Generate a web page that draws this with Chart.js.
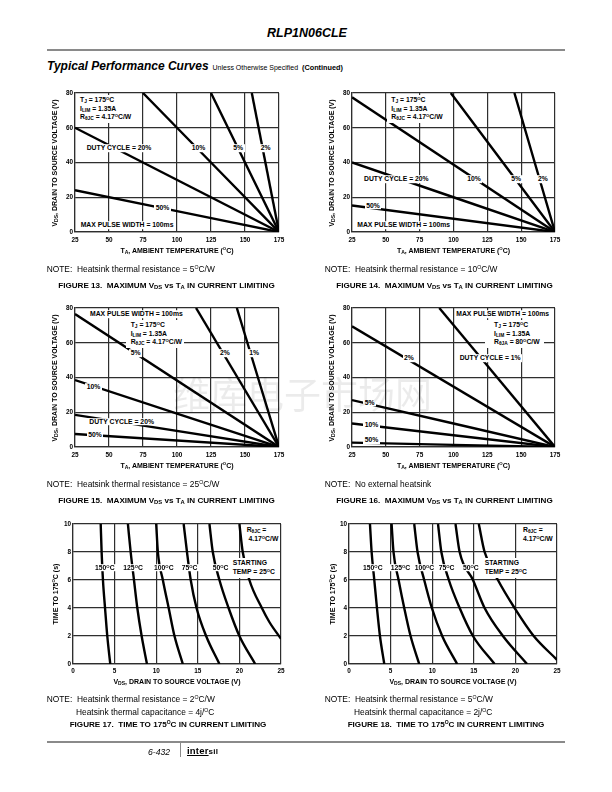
<!DOCTYPE html>
<html>
<head>
<meta charset="utf-8">
<script src="https://cdn.jsdelivr.net/npm/chart.js@4.4.1/dist/chart.umd.min.js"></script>
<style>
  html, body { margin: 0; padding: 0; background: #fff; }
  body { position: relative; width: 612px; height: 792px; overflow: hidden;
         font-family: "Liberation Sans", Arial, Helvetica, sans-serif; color: #000; }
  canvas { position: absolute; }
  .t { position: absolute; white-space: nowrap; }
  sub { font-size: 72%; vertical-align: -0.3em; line-height: 0; }
  sup { font-size: 62%; vertical-align: 0.55em; line-height: 0; }
  .lb { font-weight: bold; font-size: 6.8px; line-height: 7.6px; background: #fff; padding: 0 1.5px; }
  .blk { font-weight: bold; font-size: 6.8px; line-height: 8.4px; background: #fff; }
  .axt { font-weight: bold; font-size: 7px; }
  .note { font-size: 8.4px; }
  .cap { font-weight: bold; font-size: 8.1px; }
  .rule { position: absolute; background: #8a8a8a; }
  .wm { font-family: "Noto Sans CJK SC", sans-serif; font-size: 37px; color: rgba(0, 0, 0, 0.08); pointer-events: none; }
</style>
</head>
<body>
<script>
// ---- data ----
const tjMax = 175;                       // every V_DS vs T_A line ends at (175, 0)
const tempTicks = [25, 50, 75, 100, 125, 150, 175];
const vdsTicks = [0, 20, 40, 60, 80];
const timeTicks = [0, 2, 4, 6, 8, 10];
const vTicks = [0, 5, 10, 15, 20, 25];

// Figure 13, heatsink 5 C/W
const f13Duty = ['50%', '20%', '10%', '5%', '2%'];
const f13StartT = [25, 25, 75, 125, 155];
const f13StartV = [24, 60, 80, 80, 80];

// Figure 14, heatsink 10 C/W
const f14Duty = ['50%', '20%', '10%', '5%', '2%'];
const f14StartT = [25, 25, 25, 98, 145];
const f14StartV = [15.3, 40, 77.5, 80, 80];

// Figure 15, heatsink 25 C/W
const f15Duty = ['50%', '20%', '10%', '5%', '2%', '1%'];
const f15StartT = [25, 25, 25, 25, 114, 144];
const f15StartV = [7.5, 18.5, 38.5, 76.5, 80, 80];

// Figure 16, no heatsink
const f16Duty = ['50%', '10%', '5%', '2%', '1%'];
const f16StartT = [25, 25, 25, 25, 89.5];
const f16StartV = [2.5, 13.5, 27, 69.5, 80];

// Figure 17, time to 175C (s) vs V_DS, per starting temperature
const f17Temps = ['150', '125', '100', '75', '50', '25'];
const f17Time = [
  [10, 8, 6, 4, 2, 0],
  [10, 8, 6, 4, 2, 0],
  [10, 8, 6, 4, 2, 0],
  [10, 8, 6, 4, 2, 0],
  [10, 8, 6, 4, 2, 0],
  [10, 8, 6, 4, 3, 1.8]
];
const f17Vds = [
  [3.33, 3.44, 3.6, 3.85, 4.12, 4.48],
  [6.6, 6.93, 7.33, 7.73, 8.25, 8.89],
  [10.0, 10.2, 10.8, 11.5, 12.2, 13.2],
  [13.3, 13.7, 14.15, 14.85, 16.0, 17.6],
  [16.4, 16.8, 17.6, 18.7, 20.0, 21.9],
  [20.0, 20.4, 21.2, 22.7, 23.6, 25]
];

// Figure 18
const f18Temps = ['150', '125', '100', '75', '50', '25'];
const f18Time = [
  [10, 8, 6, 4, 2, 0],
  [10, 8, 6, 4, 2, 0],
  [10, 8, 6, 4, 2, 0],
  [10, 8, 6, 4, 2, 0],
  [10, 8, 6, 4, 2, 0],
  [10, 8, 6, 4, 2, 0.3]
];
const f18Vds = [
  [2.52, 2.72, 3.04, 3.36, 3.72, 4.24],
  [5.12, 5.35, 5.96, 6.64, 7.4, 8.44],
  [7.84, 8.24, 9.04, 9.96, 11.2, 13.0],
  [10.7, 11.1, 12.0, 13.3, 14.9, 17.5],
  [12.8, 13.3, 14.9, 16.3, 18.5, 21.4],
  [15.6, 16.3, 17.9, 19.9, 22.2, 25]
];

// ---- helpers ----
function put(cls, html, x, y, mode) {
  const el = document.createElement('div');
  el.className = 't ' + cls;
  el.innerHTML = html;
  el.style.left = x + 'px';
  el.style.top = y + 'px';
  if (mode === 'c') el.style.transform = 'translate(-50%, -50%)';
  else if (mode === 'v') el.style.transform = 'translate(-50%, -50%) rotate(-90deg)';
  else if (mode === 'l') el.style.transform = 'translateY(-50%)';
  document.body.appendChild(el);
  return el;
}

function rule(x, y, w, h) {
  const el = document.createElement('div');
  el.className = 'rule';
  Object.assign(el.style, { left: x + 'px', top: y + 'px', width: w + 'px', height: h + 'px' });
  document.body.appendChild(el);
}

function rays(startT, startV) {
  return startT.map((t, i) => [{ x: t, y: startV[i] }, { x: tjMax, y: 0 }]);
}

function curves(times, vds) {
  return vds.map((row, i) => row.map((v, j) => ({ x: v, y: times[i][j] })));
}

/**
 * Build one plot so its chart area lands on box = [left, top, right, bottom]
 */
function plot(box, xTicks, yTicks, sets, xPad) {
  const padL = 24, padT = 6, padR = 10, padB = 16;
  const w = box[2] - box[0] + padL + padR;
  const h = box[3] - box[1] + padT + padB;
  const cv = document.createElement('canvas');
  cv.width = w;
  cv.height = h;
  cv.style.left = (box[0] - padL) + 'px';
  cv.style.top = (box[1] - padT) + 'px';
  cv.style.width = w + 'px';
  cv.style.height = h + 'px';
  document.body.appendChild(cv);

  const tickFont = { family: 'Liberation Sans', size: 6.4, weight: 'bold' };
  const grid = { color: '#2e2e2e', lineWidth: 1.2, drawTicks: false };
  const border = { color: '#2e2e2e', width: 1.2 };

  return new Chart(cv, {
    type: 'scatter',
    data: {
      datasets: sets.map((pts) => ({
        data: pts,
        showLine: true,
        borderColor: '#000',
        borderWidth: 2.4,
        pointRadius: 0,
        cubicInterpolationMode: 'monotone',
      })),
    },
    options: {
      responsive: false,
      animation: false,
      events: [],
      layout: { padding: { left: 0, top: padT, right: padR, bottom: 0 } },
      plugins: { legend: { display: false }, tooltip: { enabled: false } },
      scales: {
        x: {
          type: 'linear',
          min: xTicks[0],
          max: xTicks[xTicks.length - 1],
          afterBuildTicks: (s) => { s.ticks = xTicks.map((v) => ({ value: v })); },
          afterFit: (s) => { s.height = padB; },
          ticks: { font: tickFont, color: '#000', padding: xPad, maxRotation: 0, autoSkip: false },
          grid,
          border,
        },
        y: {
          type: 'linear',
          min: yTicks[0],
          max: yTicks[yTicks.length - 1],
          afterBuildTicks: (s) => { s.ticks = yTicks.map((v) => ({ value: v })); },
          afterFit: (s) => { s.width = padL; },
          ticks: { font: tickFont, color: '#000', padding: 2, autoSkip: false },
          grid,
          border,
        },
      },
    },
  });
}

// ---- plots ----
plot([75, 93, 279, 232], tempTicks, vdsTicks, rays(f13StartT, f13StartV), 4);
plot([352, 93, 555, 232], tempTicks, vdsTicks, rays(f14StartT, f14StartV), 4);
plot([75, 308, 279, 447], tempTicks, vdsTicks, rays(f15StartT, f15StartV), 4);
plot([352, 308, 555, 447], tempTicks, vdsTicks, rays(f16StartT, f16StartV), 4);
plot([73, 524, 281, 664], vTicks, timeTicks, curves(f17Time, f17Vds), 3);
plot([349, 524, 557, 664], vTicks, timeTicks, curves(f18Time, f18Vds), 3);

// ---- page header ----
put('', '<b><i>RLP1N06CLE</i></b>', 307, 33, 'c').style.fontSize = '12.5px';
rule(47, 49, 518, 2);
put('', '<b><i style="font-size:12px">Typical Performance Curves</i></b>' +
  '<span style="font-size:7px">&nbsp;&nbsp;Unless Otherwise Specified&nbsp;&nbsp;</span>' +
  '<b style="font-size:7.3px">(Continued)</b>', 47, 65, 'l');

// ---- axis titles ----
const vdsTitle = 'V<sub>DS</sub>, DRAIN TO SOURCE VOLTAGE (V)';
const taTitle = 'T<sub>A</sub>, AMBIENT TEMPERATURE (<sup>O</sup>C)';
const timeTitle = 'TIME TO 175<sup>O</sup>C (s)';
put('axt', vdsTitle, 53.5, 162.5, 'v');
put('axt', vdsTitle, 330.5, 162.5, 'v');
put('axt', vdsTitle, 53.5, 377.5, 'v');
put('axt', vdsTitle, 330.5, 377.5, 'v');
put('axt', timeTitle, 54.5, 594, 'v');
put('axt', timeTitle, 331.5, 594, 'v');
put('axt', taTitle, 177, 250, 'c');
put('axt', taTitle, 453.5, 250, 'c');
put('axt', taTitle, 177, 465, 'c');
put('axt', taTitle, 453.5, 465, 'c');
put('axt', vdsTitle, 177, 681, 'c');
put('axt', vdsTitle, 453, 681, 'c');

// ---- in-plot labels ----
const tjBlock = (r) => 'T<sub>J</sub> = 175<sup>O</sup>C<br>I<sub>LIM</sub> = 1.35A<br>R<sub>&theta;' + r + '</sub> = ';

function block(html, x, top, padL, padR) {
  const el = put('blk', html, x - padL, top, '');
  el.style.padding = '1.6px ' + padR + 'px 2px ' + padL + 'px';
  return el;
}
function tag(html, x, y) { return put('lb', html, x - 1.5, y, 'l'); }

// fig 13
block(tjBlock('JC') + '4.17<sup>O</sup>C/W', 80, 94.5, 4.5, 2);
tag('DUTY CYCLE = ' + f13Duty[1], 86.7, 148.3);
tag(f13Duty[2], 191.7, 148.3);
tag(f13Duty[3], 233.3, 148.3);
tag(f13Duty[4], 260.7, 148.3);
tag(f13Duty[0], 155.7, 207.7);
tag('MAX PULSE WIDTH = 100ms', 80.7, 225);

// fig 14
block(tjBlock('JC') + '4.17<sup>O</sup>C/W', 391.3, 94.5, 4, 2);
tag('DUTY CYCLE = ' + f14Duty[1], 364, 179.3);
tag(f14Duty[2], 467.3, 179.3);
tag(f14Duty[3], 511.3, 179.3);
tag(f14Duty[4], 538, 179.3);
tag(f14Duty[0], 366.3, 205.7);
tag('MAX PULSE WIDTH = 100ms', 357.3, 225);

// fig 15
block(tjBlock('JC') + '4.17<sup>O</sup>C/W', 130.7, 319.5, 5, 2);
tag('MAX PULSE WIDTH = 100ms', 90, 314);
tag(f15Duty[3], 130.7, 353.3);
tag(f15Duty[4], 220, 353.3);
tag(f15Duty[5], 249.3, 353.3);
tag(f15Duty[2], 86.7, 387.3);
tag('DUTY CYCLE = ' + f15Duty[1], 89.3, 421.7);
tag(f15Duty[0], 88.3, 435);

// fig 16
block(tjBlock('JA') + '80<sup>O</sup>C/W', 494, 319.5, 9, 4);
tag('MAX PULSE WIDTH = 100ms', 456.3, 314);
tag('DUTY CYCLE = ' + f16Duty[4], 459.7, 358.3);
tag(f16Duty[3], 404, 358.3);
tag(f16Duty[2], 364.7, 402.7);
tag(f16Duty[1], 364.7, 425);
tag(f16Duty[0], 364.7, 440);

// fig 17
block('R<sub>&theta;JC</sub> =<br>&nbsp;4.17<sup>O</sup>C/W', 246.7, 524.5, 2, 2);
const f17LabelX = [95, 123.3, 154, 181.7, 212.7];
f17LabelX.forEach((x, i) => tag(f17Temps[i] + '<sup>O</sup>C', x, 567.7));
block('STARTING<br>TEMP = ' + f17Temps[5] + '<sup>O</sup>C', 232.7, 557.5, 1.5, 1.5);

// fig 18
block('R<sub>&theta;JC</sub> =<br>4.17<sup>O</sup>C/W', 523, 524.5, 2, 2);
const f18LabelX = [363, 390.7, 414.7, 438.7, 463];
f18LabelX.forEach((x, i) => tag(f18Temps[i] + '<sup>O</sup>C', x, 567.7));
block('STARTING<br>TEMP = ' + f18Temps[5] + '<sup>O</sup>C', 484.7, 557.5, 1.5, 1.5);

// ---- notes and captions ----
put('note', 'NOTE:&nbsp; Heatsink thermal resistance = 5<sup>O</sup>C/W', 46.7, 269.3, 'l');
put('note', 'NOTE:&nbsp; Heatsink thermal resistance = 10<sup>O</sup>C/W', 324.7, 269.3, 'l');
put('note', 'NOTE:&nbsp; Heatsink thermal resistance = 25<sup>O</sup>C/W', 46.7, 484.3, 'l');
put('note', 'NOTE:&nbsp; No external heatsink', 324.7, 484.3, 'l');
put('note', 'NOTE:&nbsp; Heatsink thermal resistance = 2<sup>O</sup>C/W', 46.7, 699.3, 'l');
put('note', 'Heatsink thermal capacitance = 4j/<sup>O</sup>C', 76, 712, 'l');
put('note', 'NOTE:&nbsp; Heatsink thermal resistance = 5<sup>O</sup>C/W', 324.7, 699.3, 'l');
put('note', 'Heatsink thermal capacitance = 2j/<sup>O</sup>C', 354, 712, 'l');

const capVT = 'MAXIMUM V<sub>DS</sub> vs T<sub>A</sub> IN CURRENT LIMITING';
put('cap', 'FIGURE 13.&nbsp; ' + capVT, 166.5, 285, 'c');
put('cap', 'FIGURE 14.&nbsp; ' + capVT, 444.5, 285, 'c');
put('cap', 'FIGURE 15.&nbsp; ' + capVT, 166.5, 500, 'c');
put('cap', 'FIGURE 16.&nbsp; ' + capVT, 444.5, 500, 'c');
put('cap', 'FIGURE 17.&nbsp; TIME TO 175<sup>O</sup>C IN CURRENT LIMITING', 168, 724, 'c');
put('cap', 'FIGURE 18.&nbsp; TIME TO 175<sup>O</sup>C IN CURRENT LIMITING', 446, 724, 'c');

// ---- footer ----
rule(47, 741, 518, 1.5);
put('', '<i style="font-size:8.6px">6-432</i>', 148, 749.5, 'l');
rule(179.5, 741, 1.2, 16);
put('', '<b style="font-size:9.5px;letter-spacing:0.2px"><span style="text-decoration:underline">inter</span><span style="font-size:8px">sil</span></b>', 187, 749, 'l');

// ---- watermark ----
put('wm', '维库电子市场网', 173, 393, 'l');
</script>
</body>
</html>
